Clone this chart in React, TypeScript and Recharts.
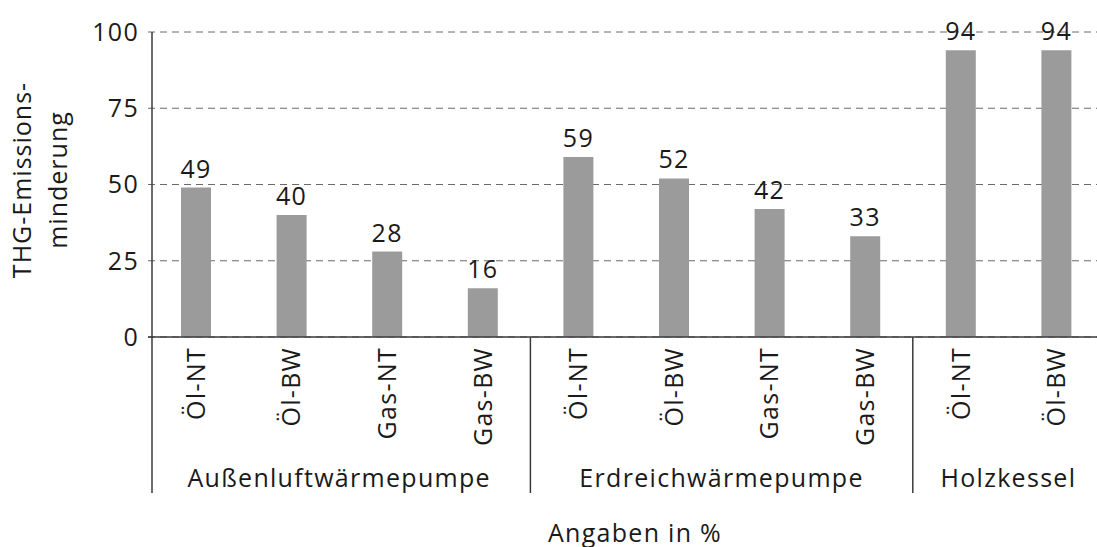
import React from "react";
import {
  BarChart,
  Bar,
  XAxis,
  YAxis,
  CartesianGrid,
  LabelList,
} from "recharts";

// Data
const categories = [
  "Öl-NT",
  "Öl-BW",
  "Gas-NT",
  "Gas-BW",
  "Öl-NT",
  "Öl-BW",
  "Gas-NT",
  "Gas-BW",
  "Öl-NT",
  "Öl-BW",
];
const reductions = [49, 40, 28, 16, 59, 52, 42, 33, 94, 94];
const groupNames = ["Außenluftwärmepumpe", "Erdreichwärmepumpe", "Holzkessel"];
const groupStarts = [0, 4, 8];
const groupSizes = [4, 4, 2];
const yTicks = [0, 25, 50, 75, 100];
const yTitle = ["THG-Emissions-", "minderung"];
const xTitle = "Angaben in %";

// Layout
const CHART_W = 1104;
const CHART_H = 547;
const PLOT_TOP = 32;
const Y_AXIS_W = 148;
const X_AXIS_H = 210;
const BAND = (CHART_W - Y_AXIS_W) / categories.length;
const FONT = "'Open Sans', 'DejaVu Sans', sans-serif";
const FS = 25;
const SPACING = 1.3;
const TEXT = "#1a1a1a";
const LINE = "#3a3a3a";

const data = categories.map((cat, i) => ({ cat, value: reductions[i] }));

const CategoryTick = (props: any) => {
  const { x, y, index, payload } = props;
  const g = groupStarts.indexOf(index);
  return (
    <g>
      <text
        x={x}
        y={y + 10}
        transform={`rotate(-90, ${x}, ${y + 10})`}
        textAnchor="end"
        dy="0.36em"
        fill={TEXT}
        fontSize={FS}
        fontFamily={FONT}
        style={{ letterSpacing: SPACING }}
      >
        {payload.value}
      </text>
      {g >= 0 && (
        <>
          {/* group separator (first one doubles as y axis line) */}
          <line
            x1={x - BAND / 2 + (g === 0 ? 4 : 0)}
            x2={x - BAND / 2 + (g === 0 ? 4 : 0)}
            y1={g === 0 ? PLOT_TOP : y}
            y2={y + 156}
            stroke={LINE}
            strokeWidth={1.5}
          />
          <text
            x={x + ((groupSizes[g] - 1) * BAND) / 2}
            y={y + 150}
            textAnchor="middle"
            fill={TEXT}
            fontSize={FS}
            fontFamily={FONT}
            style={{ letterSpacing: SPACING }}
          >
            {groupNames[g]}
          </text>
        </>
      )}
    </g>
  );
};

const App = () => {
  return (
    <div
      style={{
        position: "absolute",
        left: 0,
        top: 0,
        width: 1097,
        height: CHART_H,
        overflow: "hidden",
        background: "#fff",
      }}
    >
      <BarChart
        width={CHART_W}
        height={CHART_H}
        data={data}
        margin={{ top: PLOT_TOP, right: 0, bottom: 0, left: 0 }}
      >
        <CartesianGrid
          vertical={false}
          stroke="#6a6a6a"
          strokeDasharray="7 5"
        />
        <XAxis
          dataKey="cat"
          height={X_AXIS_H}
          tickLine={false}
          tickSize={0}
          tickMargin={0}
          axisLine={{ stroke: LINE, strokeWidth: 1.5 }}
          interval={0}
          tick={<CategoryTick />}
        />
        <YAxis
          width={Y_AXIS_W}
          domain={[0, 100]}
          ticks={yTicks}
          axisLine={false}
          tickLine={false}
          tickSize={6}
          tickMargin={3}
          tick={{
            fill: TEXT,
            fontSize: FS,
            fontFamily: FONT,
            style: { letterSpacing: SPACING },
          }}
        />
        <Bar
          dataKey="value"
          fill="#9b9b9b"
          barSize={30}
          isAnimationActive={false}
        >
          <LabelList
            dataKey="value"
            position="top"
            offset={10}
            fill={TEXT}
            fontSize={FS}
            fontFamily={FONT}
            style={{ letterSpacing: SPACING }}
          />
        </Bar>
      </BarChart>
      <svg
        width={1097}
        height={CHART_H}
        style={{ position: "absolute", left: 0, top: 0, pointerEvents: "none" }}
      >
        {yTitle.map((line, i) => (
          <text
            key={i}
            x={22 + i * 36}
            y={180}
            transform={`rotate(-90, ${22 + i * 36}, 180)`}
            textAnchor="middle"
            dy="0.36em"
            fill={TEXT}
            fontSize={FS}
            fontFamily={FONT}
            style={{ letterSpacing: 1 }}
          >
            {line}
          </text>
        ))}
        <text
          x={635}
          y={542}
          textAnchor="middle"
          fill={TEXT}
          fontSize={FS}
          fontFamily={FONT}
          style={{ letterSpacing: SPACING }}
        >
          {xTitle}
        </text>
      </svg>
    </div>
  );
};

export default App;
